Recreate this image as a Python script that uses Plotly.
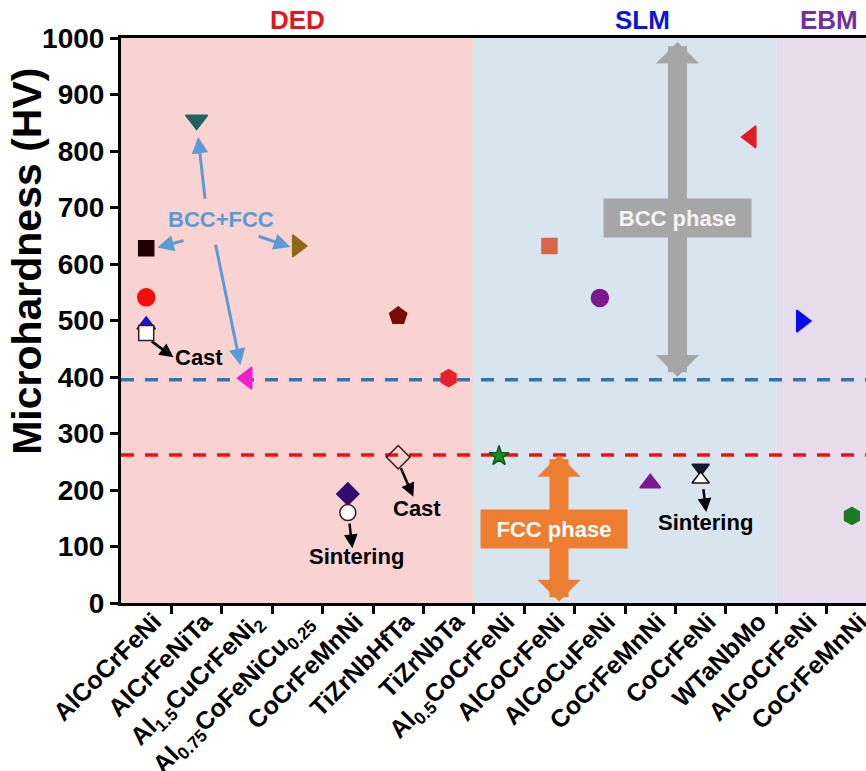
import plotly.graph_objects as go

# ---------------- data ----------------
categories = ["AlCoCrFeNi", "AlCrFeNiTa", "Al<sub>1.5</sub>CuCrFeNi<sub>2</sub>",
              "Al<sub>0.75</sub>CoFeNiCu<sub>0.25</sub>", "CoCrFeMnNi", "TiZrNbHfTa",
              "TiZrNbTa", "Al<sub>0.5</sub>CoCrFeNi", "AlCoCrFeNi", "AlCoCuFeNi",
              "CoCrFeMnNi", "CoCrFeNi", "WTaNbMo", "AlCoCrFeNi", "CoCrFeMnNi"]
processes = ["DED", "SLM", "EBM"]
process_first = [1, 8, 14]
process_last = [7, 13, 15]
point_cat = [1, 1, 1, 1, 2, 3, 4, 5, 5, 6, 6, 7, 8, 9, 10, 11, 12, 12, 13, 14, 15]
point_hv = [628, 541, 492, 478, 855, 398, 632, 193, 160, 508, 258, 398, 260, 632,
            540, 212, 239, 219, 825, 499, 154]
bcc_level = 395
fcc_level = 262
y_ticks = [0, 100, 200, 300, 400, 500, 600, 700, 800, 900, 1000]

# ---------------- styles ----------------
pt_symbol = ["square", "circle", "triangle-up", "square", "triangle-down", "triangle-left",
             "triangle-right", "diamond", "circle", "pentagon", "diamond-open", "hexagon",
             "star", "square", "circle", "triangle-up", "triangle-down", "triangle-up",
             "triangle-left", "triangle-right", "hexagon"]
pt_color = ["#200202", "#FF0A0A", "#1414E6", "#FFFFFF", "#1F6262", "#F01ED2", "#8C6A12",
            "#2E0C72", "#FFFFFF", "#7A0A0A", "#3A1A1A", "#E8202C", "#1E8A24", "#D9654A",
            "#7A1A8E", "#7A1A8E", "#0E1C2C", "#FFFFFF", "#E01B24", "#0A0AF0", "#1E7A22"]
pt_line = ["#200202", "#FF0A0A", "#1414A0", "#3A1A1A", "#1F6262", "#F01ED2", "#8C6A12",
           "#2E0C72", "#3A1A1A", "#7A0A0A", "#3A1A1A", "#E8202C", "#0E5A14", "#D9654A",
           "#7A1A8E", "#7A1A8E", "#0E1C2C", "#101010", "#E01B24", "#0A0AF0", "#1E7A22"]
pt_size = [15, 17, 16, 15, 19, 19, 19, 17, 16, 18, 18, 17, 15, 15, 17, 18, 15, 15, 19, 19, 17]
region_colors = ["#F9D2D2", "#D8E5EF", "#E6DCEC"]
label_colors = ["#E8141B", "#0A14E0", "#7030A0"]
label_x = [4.0, 10.85, 14.55]

BOLD = dict(family="Liberation Sans, Arial", weight="bold")

fig = go.Figure()

# region backgrounds
for i in range(len(processes)):
    fig.add_shape(type="rect", xref="x", yref="paper",
                  x0=process_first[i] - 0.5, x1=process_last[i] + 0.5, y0=0, y1=1,
                  fillcolor=region_colors[i], line_width=0, layer="below")
    fig.add_annotation(x=label_x[i], xref="x", y=1, yref="paper", yanchor="bottom",
                       xanchor="center", yshift=1, text=processes[i], showarrow=False,
                       font=dict(size=26, color=label_colors[i], **BOLD))

# dashed reference lines
fig.add_trace(go.Scatter(x=[0.5, 15.5], y=[bcc_level, bcc_level], mode="lines",
                         line=dict(color="#2E75B6", width=3.5, dash="13px,11px"),
                         showlegend=False, hoverinfo="skip"))
fig.add_trace(go.Scatter(x=[0.5, 15.5], y=[fcc_level, fcc_level], mode="lines",
                         line=dict(color="#F01010", width=3.5, dash="13px,11px"),
                         showlegend=False, hoverinfo="skip"))

# phase arrows
fig.add_annotation(x=11.54, y=993, ax=11.54, ay=bcc_level + 3, xref="x", yref="y",
                   axref="x", ayref="y", text="", showarrow=True, arrowhead=1,
                   arrowside="end+start", arrowwidth=19, arrowsize=0.38, startarrowsize=0.38,
                   startarrowhead=1, arrowcolor="#A6A6A6")
fig.add_annotation(x=11.54, y=681, text="BCC phase", showarrow=False, bgcolor="#A6A6A6",
                   width=141, height=32, borderpad=3,
                   font=dict(size=22, color="#F4F4F4", **BOLD))
fig.add_annotation(x=9.19, y=fcc_level, ax=9.19, ay=0, xref="x", yref="y",
                   axref="x", ayref="y", text="", showarrow=True, arrowhead=1,
                   arrowside="end+start", arrowwidth=19, arrowsize=0.38, startarrowsize=0.38,
                   startarrowhead=1, arrowcolor="#ED7D31")
fig.add_annotation(x=9.10, y=131, text="FCC phase", showarrow=False, bgcolor="#ED7D31",
                   width=140, height=32, borderpad=3,
                   font=dict(size=22, color="#FFFFFF", **BOLD))

# BCC+FCC callouts
fig.add_annotation(x=2.49, y=678, text="BCC+FCC", showarrow=False,
                   font=dict(size=22, color="#5B9BD5", **BOLD))
for (tx, ty, hx, hy) in [(1.77, 642, 1.22, 629), (2.17, 713, 2.03, 825),
                         (3.20, 650, 3.86, 630), (2.37, 637, 2.87, 421)]:
    fig.add_annotation(x=hx, y=hy, ax=tx, ay=ty, axref="x", ayref="y", text="",
                       showarrow=True, arrowhead=2, arrowsize=1.1, arrowwidth=3,
                       arrowcolor="#5B9BD5")

# Cast / Sintering callouts
for (tx, ty, hx, hy) in [(1.08, 465, 1.54, 435), (6.04, 241, 6.30, 188),
                         (5.03, 143, 5.09, 97), (12.05, 204, 12.11, 161)]:
    fig.add_annotation(x=hx, y=hy, ax=tx, ay=ty, axref="x", ayref="y", text="",
                       showarrow=True, arrowhead=2, arrowsize=1.1, arrowwidth=2.5,
                       arrowcolor="#000000")
for (txt, x, y) in [("Cast", 2.05, 434), ("Cast", 6.38, 168),
                    ("Sintering", 5.17, 83), ("Sintering", 12.09, 143)]:
    fig.add_annotation(x=x, y=y, text=txt, showarrow=False,
                       font=dict(size=22, color="#000000", **BOLD))

# data points
fig.add_trace(go.Scatter(x=point_cat, y=point_hv, mode="markers",
                         marker=dict(symbol=pt_symbol, color=pt_color, size=pt_size,
                                     opacity=1, line=dict(color=pt_line, width=1.5)),
                         showlegend=False, cliponaxis=False))

# y-axis title
fig.add_annotation(x=-0.126, xref="paper", y=0.604, yref="paper", text="Microhardness (HV)",
                   textangle=-90, showarrow=False, xanchor="center", yanchor="middle",
                   font=dict(size=41, color="#000000", **BOLD))

fig.update_layout(
    width=866, height=771,
    margin=dict(l=121, r=0, t=38, b=168, autoexpand=False),
    paper_bgcolor="white", plot_bgcolor="white",
    xaxis=dict(range=[0.5, 15.28], tickmode="array", tickvals=list(range(1, 16)),
               ticktext=categories, tickangle=-45, ticks="", automargin=False,
               ticklabelshift=8, ticklabelstandoff=-9, ticklabeloverflow="allow",
               tickfont=dict(size=25, color="#000000", **BOLD),
               showline=True, linewidth=3, linecolor="#000000", mirror=True,
               showgrid=False, zeroline=False,
               minor=dict(tickmode="array", tickvals=[i + 0.5 for i in range(1, 15)],
                          ticks="outside", ticklen=8, tickwidth=3, tickcolor="#000000",
                          showgrid=False)),
    yaxis=dict(range=[0, 1000], tickmode="array", tickvals=y_ticks, automargin=False,
               ticks="outside", ticklen=8, tickwidth=3, tickcolor="#000000",
               tickfont=dict(size=28, color="#000000", **BOLD),
               showline=True, linewidth=3, linecolor="#000000",
               showgrid=False, zeroline=False),
)

fig.write_html("out.html", config={"displayModeBar": False},
               post_script="document.body.style.margin='0';document.body.style.overflow='hidden';")
